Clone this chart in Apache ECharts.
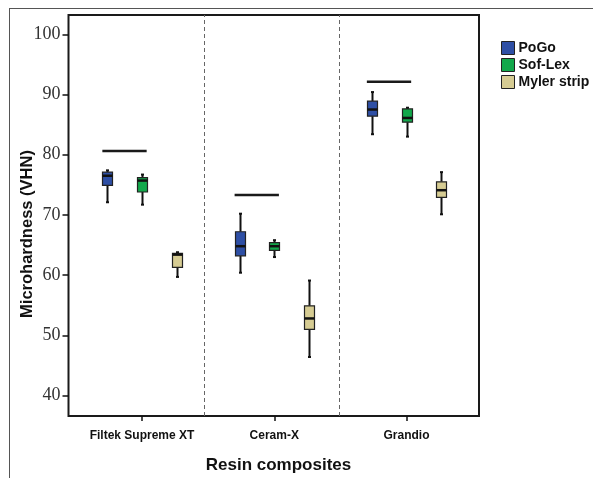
<!DOCTYPE html>
<html><head><meta charset="utf-8">
<script src="https://cdn.jsdelivr.net/npm/echarts@6/dist/echarts.min.js"></script>
<style>html,body{margin:0;padding:0;background:#fff}#c{width:593px;height:478px}</style>
</head><body><div id="c"></div>
<script>
// ---- data ----
const categories = ['Filtek Supreme XT', 'Ceram-X', 'Grandio'];
const groups = ['PoGo', 'Sof-Lex', 'Myler strip'];
// [min, Q1, median, Q3, max] for each category
const pogo   = [[72.1, 74.9, 76.5, 77.1, 77.4], [60.4, 63.2, 64.8, 67.2, 70.2], [83.4, 86.4, 87.5, 88.9, 90.4]];
const sofLex = [[71.7, 73.8, 75.7, 76.2, 76.7], [63.0, 64.1, 64.8, 65.4, 65.8], [83.0, 85.4, 86.1, 87.6, 87.8]];
const myler  = [[59.7, 61.3, 63.4, 63.6, 63.8], [46.4, 51.0, 52.8, 54.9, 59.1], [70.1, 72.9, 74.1, 75.5, 77.1]];
const sigLines = [80.6, 73.3, 92.1];
const separators = [0.47, 1.49];
const yTicks = [40, 50, 60, 70, 80, 90, 100];
const yRange = [36.6, 103.2];
const xRange = [-0.556, 2.548];
const colors = ['#2e4fa5', '#12a84b', '#d6cc93'];
const offsets = [-0.262, 0, 0.262];

const seriesData = [pogo, sofLex, myler];
const SANS = "'Liberation Sans', Arial, sans-serif";
const SERIF = "'Liberation Serif', 'Times New Roman', serif";

function boxRender(offset) {
  return function (params, api) {
    const x = api.value(0) + offset;
    const lo = api.coord([x, api.value(1)]);
    const q1 = api.coord([x, api.value(2)]);
    const md = api.coord([x, api.value(3)]);
    const q3 = api.coord([x, api.value(4)]);
    const hi = api.coord([x, api.value(5)]);
    const cx = Math.round(lo[0]) + 0.5, w = 10, cap = 1.5;
    const ln = (x1, y1, x2, y2, lw) => ({type: 'line', shape: {x1, y1, x2, y2}, style: {stroke: '#111', lineWidth: lw}});
    return {type: 'group', children: [
      ln(cx, hi[1], cx, q3[1], 2),
      ln(cx, q1[1], cx, lo[1], 2),
      ln(cx - cap, hi[1], cx + cap, hi[1], 2),
      ln(cx - cap, lo[1], cx + cap, lo[1], 2),
      {type: 'rect', shape: {x: cx - w / 2, y: q3[1], width: w, height: q1[1] - q3[1]},
       style: {fill: api.visual('color'), stroke: '#222', lineWidth: 1.2}},
      ln(cx - w / 2, md[1], cx + w / 2, md[1], 2.5)
    ]};
  };
}

const series = groups.map((g, si) => ({
  name: g,
  type: 'custom',
  itemStyle: {color: colors[si], borderColor: '#222', borderWidth: 1},
  renderItem: boxRender(offsets[si]),
  encode: {x: 0, y: [1, 2, 3, 4, 5]},
  data: seriesData[si].map((d, i) => [i].concat(d)),
  z: 3
}));

series.push({
  name: 'sig',
  type: 'custom',
  renderItem: function (params, api) {
    const x = api.value(0), y = api.value(1);
    const a = api.coord([x - 0.30, y]);
    const b = api.coord([x + 0.035, y]);
    return {type: 'line', shape: {x1: a[0], y1: a[1], x2: b[0], y2: b[1]}, style: {stroke: '#1a1a1a', lineWidth: 2.5}};
  },
  encode: {x: 0, y: 1},
  data: sigLines.map((v, i) => [i, v]),
  z: 3
});

series.push({
  name: 'sep',
  type: 'line',
  data: [],
  markLine: {
    silent: true, symbol: 'none', label: {show: false},
    lineStyle: {color: '#666', type: [4, 3], width: 1},
    data: separators.map(v => ({xAxis: v}))
  }
});

const chart = echarts.init(document.getElementById('c'), null, {renderer: 'canvas'});
chart.setOption({
  animation: false,
  backgroundColor: '#fff',
  grid: {left: 68.5, top: 15, right: 114, bottom: 62, show: true, borderColor: '#1a1a1a', borderWidth: 2, backgroundColor: 'transparent'},
  legend: {
    data: groups, icon: 'rect', orient: 'vertical', left: 501, top: 41, padding: 0,
    itemWidth: 13, itemHeight: 13, itemGap: 3, selectedMode: false,
    itemStyle: {borderColor: '#222', borderWidth: 1},
    textStyle: {fontFamily: SANS, fontWeight: 'bold', fontSize: 14, color: '#111', padding: [0, 0, 0, -1]}
  },
  xAxis: {
    type: 'value', min: xRange[0], max: xRange[1],
    axisLine: {show: false, onZero: false},
    splitLine: {show: false},
    axisTick: {show: true, length: 5, lineStyle: {color: '#111', width: 1.5}, customValues: categories.map((c, i) => i)},
    axisLabel: {
      customValues: categories.map((c, i) => i),
      formatter: v => categories[Math.round(v)] || '',
      margin: 14, fontFamily: SANS, fontWeight: 'bold', fontSize: 12, color: '#111'
    }
  },
  yAxis: {
    type: 'value', min: yRange[0], max: yRange[1],
    axisLine: {show: false, onZero: false},
    splitLine: {show: false},
    axisTick: {show: true, length: 6, lineStyle: {color: '#111', width: 1.5}, customValues: yTicks},
    axisLabel: {customValues: yTicks, margin: 8, fontFamily: SERIF, fontSize: 18, color: '#333'}
  },
  graphic: [
    {type: 'line', shape: {x1: 9, y1: 8.5, x2: 593, y2: 8.5}, style: {stroke: '#555', lineWidth: 1}, silent: true},
    {type: 'line', shape: {x1: 9.5, y1: 8, x2: 9.5, y2: 478}, style: {stroke: '#555', lineWidth: 1}, silent: true},
    {type: 'text', x: 27.5, y: 234, rotation: Math.PI / 2,
     style: {text: 'Microhardness (VHN)', fontFamily: SANS, fontWeight: 'bold', fontSize: 16.5, fill: '#111', align: 'center', verticalAlign: 'middle'}},
    {type: 'text', x: 278.5, y: 465,
     style: {text: 'Resin composites', fontFamily: SANS, fontWeight: 'bold', fontSize: 17, fill: '#111', align: 'center', verticalAlign: 'middle'}}
  ],
  series: series
});
</script>
</body></html>
